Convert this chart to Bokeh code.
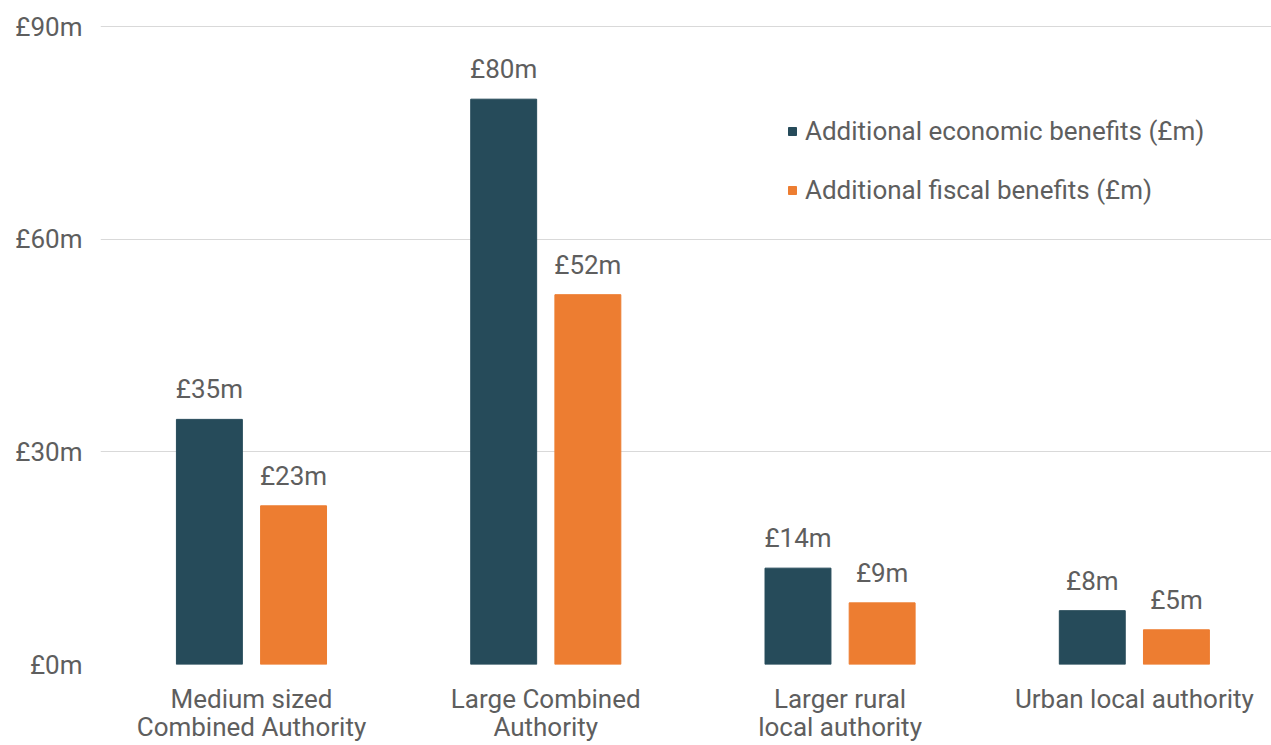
from bokeh.plotting import figure
from bokeh.models import ColumnDataSource, FixedTicker, Range1d, Legend, LegendItem
from bokeh.core.properties import value
from bokeh.embed import file_html
from bokeh.resources import INLINE

categories = ["Medium sized\nCombined Authority", "Large Combined\nAuthority",
              "Larger rural\nlocal authority", "Urban local authority"]
economic = [34.6, 79.8, 13.6, 7.6]
fiscal = [22.4, 52.2, 8.7, 4.9]
economic_labels = ["£35m", "£80m", "£14m", "£8m"]
fiscal_labels = ["£23m", "£52m", "£9m", "£5m"]
series_names = ["Additional economic benefits (£m)", "Additional fiscal benefits (£m)"]
y_ticks = [0, 30, 60, 90]

DARK = "#264B5A"
ORANGE = "#ED7D31"
TXT = "#5E5E5E"
FONT = "Roboto"
FS = "26px"

pos = list(range(len(categories)))
off = 0.143
w = 0.224

src_e = ColumnDataSource(dict(x=[p_ - off for p_ in pos], top=economic, lab=economic_labels))
src_f = ColumnDataSource(dict(x=[p_ + off for p_ in pos], top=fiscal, lab=fiscal_labels))

p = figure(width=1271, height=745, output_backend="svg", toolbar_location=None,
           x_range=Range1d(-0.513, 3.466), y_range=Range1d(0, 90.2),
           min_border_left=100, min_border_right=0, min_border_top=25, min_border_bottom=81)
p.outline_line_color = None
p.background_fill_color = "white"
p.border_fill_color = "white"

r1 = p.vbar(x="x", top="top", width=w, source=src_e, color=DARK)
r2 = p.vbar(x="x", top="top", width=w, source=src_f, color=ORANGE)

for s in (src_e, src_f):
    p.text(x="x", y="top", text="lab", source=s, text_align="center",
           text_baseline="alphabetic", y_offset=-30, text_color=TXT,
           text_font=value(FONT), text_font_size=FS)

p.xgrid.visible = False
p.ygrid.grid_line_color = "#D9D9D9"
p.ygrid.grid_line_width = 1

p.yaxis.ticker = FixedTicker(ticks=y_ticks)
p.yaxis.major_label_overrides = {t: f"£{t}m" for t in y_ticks}
p.yaxis.axis_line_color = None
p.yaxis.major_tick_line_color = None
p.yaxis.minor_tick_line_color = None
p.yaxis.major_tick_out = 0
p.yaxis.major_tick_in = 0
p.yaxis.minor_tick_out = 0
p.yaxis.major_label_standoff = 18
p.yaxis.major_label_text_font = FONT
p.yaxis.major_label_text_font_size = FS
p.yaxis.major_label_text_color = TXT

p.xaxis.ticker = FixedTicker(ticks=pos)
p.xaxis.major_label_overrides = {i: c for i, c in zip(pos, categories)}
p.xaxis.axis_line_color = None
p.xaxis.major_tick_line_color = None
p.xaxis.minor_tick_line_color = None
p.xaxis.major_tick_out = 0
p.xaxis.major_tick_in = 0
p.xaxis.minor_tick_out = 0
p.xaxis.major_label_standoff = 19
p.xaxis.major_label_text_font = FONT
p.xaxis.major_label_text_font_size = FS
p.xaxis.major_label_text_color = TXT
p.xaxis.major_label_text_line_height = 0.95

legend = Legend(items=[LegendItem(label=series_names[0], renderers=[r1]),
                       LegendItem(label=series_names[1], renderers=[r2])],
                location=(687, 459), orientation="vertical",
                glyph_width=10, glyph_height=10, label_height=26, spacing=29,
                label_standoff=8, padding=0, margin=0,
                border_line_color=None, background_fill_alpha=0,
                label_text_font=FONT, label_text_font_size=FS, label_text_color=TXT)
p.add_layout(legend)

open("out.html", "w").write(file_html(p, INLINE))
